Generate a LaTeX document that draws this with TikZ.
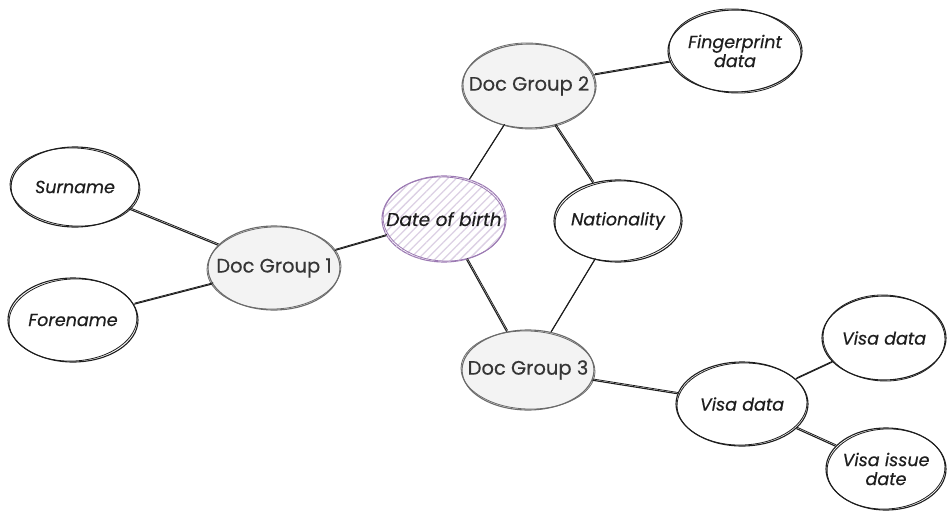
\documentclass[tikz,border=0pt]{standalone}
\usepackage{fontspec}
\setmainfont{Poppins}[FakeBold=0.4]
\usetikzlibrary{shapes.geometric,patterns.meta}
\definecolor{ink}{HTML}{1E1E1E}
\definecolor{grayline}{HTML}{6B6B6B}
\definecolor{grayfill}{HTML}{F3F3F3}
\definecolor{plum}{HTML}{9C7AB3}
\tikzset{
  base/.style={ellipse, inner xsep=-24pt, inner ysep=0pt, line width=1.1pt, text=ink, align=center},
  leaf/.style={base, draw=ink, fill=white, font=\itshape\fontsize{17.5}{19}\selectfont},
  group/.style={base, draw=grayline, fill=grayfill, text=ink!90, font=\fontsize{19.5}{22}\selectfont},
  datebox/.style={base, draw=plum, fill=white, font=\itshape\fontsize{18.5}{21}\selectfont,
    postaction={pattern={Lines[angle=45,distance=6pt,line width=1.3pt]}, pattern color=plum!35}},
  ring/.style={line width=0.8pt},
  link/.style={draw=ink, line width=1.1pt},
}
\begin{document}
\begin{tikzpicture}[x=1pt,y=-1pt]
\useasboundingbox (0,0) rectangle (952,516);

% entities
\node[leaf,  minimum width=128pt, minimum height=80pt] (sur) at (75,187) {Surname};
\node[leaf,  minimum width=130pt, minimum height=84pt] (fore) at (73,320) {Forename};
\node[group, minimum width=132pt, minimum height=84pt] (g1) at (274,268) {Doc Group 1};
\node[datebox, minimum width=124pt, minimum height=86pt] (dob) at (444,219) {Date of birth};
\node[group, minimum width=134pt, minimum height=84pt] (g2) at (529,86) {Doc Group 2};
\node[leaf,  minimum width=128pt, minimum height=82pt] (nat) at (618,221) {Nationality};
\node[group, minimum width=132pt, minimum height=80pt] (g3) at (528,370) {Doc Group 3};
\node[leaf,  minimum width=134pt, minimum height=82pt] (fp) at (735,51) {Fingerprint\\data};
\node[leaf,  minimum width=132pt, minimum height=84pt] (vd) at (742,404) {Visa data};
\node[leaf,  minimum width=124pt, minimum height=84pt] (vd2) at (884,338) {Visa data};
\node[leaf,  minimum width=120pt, minimum height=82pt] (vid) at (886,469) {Visa issue\\date};

% second pencil stroke around each ellipse
\draw[ring, ink] (sur.center) ellipse [x radius=65, y radius=39, rotate=-3];
\draw[ring, ink] (fore.center) ellipse [x radius=64, y radius=41, rotate=3];
\draw[ring, grayline] (g1.center) ellipse [x radius=67, y radius=41, rotate=2];
\draw[ring, plum] (dob.center) ellipse [x radius=61, y radius=42, rotate=-3];
\draw[ring, grayline] (g2.center) ellipse [x radius=66, y radius=43, rotate=-2];
\draw[ring, ink] (nat.center) ellipse [x radius=63, y radius=40, rotate=3];
\draw[ring, grayline] (g3.center) ellipse [x radius=67, y radius=39, rotate=-2];
\draw[ring, ink] (fp.center) ellipse [x radius=66, y radius=42, rotate=-3];
\draw[ring, ink] (vd.center) ellipse [x radius=65, y radius=41, rotate=2];
\draw[ring, ink] (vd2.center) ellipse [x radius=61, y radius=43, rotate=-2];
\draw[ring, ink] (vid.center) ellipse [x radius=59, y radius=40, rotate=3];

% relations
\foreach \a/\b in {sur/g1, fore/g1, g1/dob, dob/g2, g2/nat, dob/g3, nat/g3, g2/fp, g3/vd, vd/vd2, vd/vid}{
  \draw[link] (\a) -- (\b);
  \draw[ring, ink, transform canvas={shift={(0.9pt,1.2pt)}}] (\a) -- (\b);
}
\end{tikzpicture}
\end{document}
